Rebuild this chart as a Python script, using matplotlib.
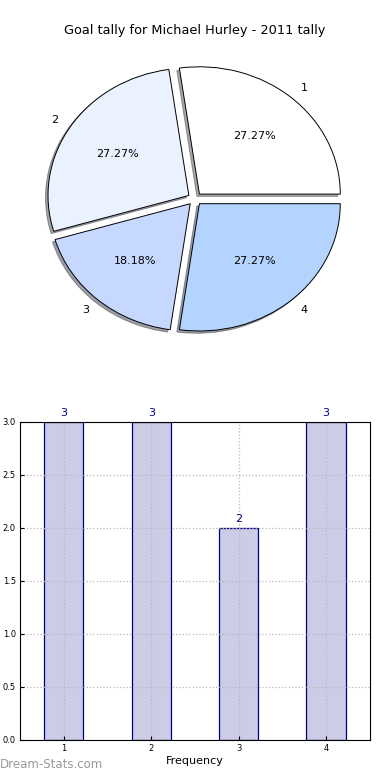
import matplotlib
matplotlib.use("Agg")
import matplotlib.pyplot as plt

title = "Goal tally for Michael Hurley - 2011 tally"
labels = ["1", "2", "3", "4"]
goals = [3, 3, 2, 3]
pie_colors = ["#ffffff", "#eaf1ff", "#c6d8ff", "#b3d4ff"]
yticks = [0.0, 0.5, 1.0, 1.5, 2.0, 2.5, 3.0]

fig = plt.figure(figsize=(3.9, 7.8), dpi=100)

# pie (old-style, not equal aspect)
ax1 = fig.add_axes([0.048, 0.541, 0.903, 0.408])
wedges, texts, autotexts = ax1.pie(goals, labels=labels, colors=pie_colors,
                                   explode=[0.05] * 4,
                                   shadow={"ox": -0.013, "oy": -0.013, "shade": 0.7},
                                   autopct="%.2f%%", startangle=0, counterclock=True,
                                   wedgeprops={"edgecolor": "black", "linewidth": 0.7},
                                   textprops={"fontsize": 8})
ax1.set_aspect("auto")
ax1.set_xlim(-1.25, 1.25)
ax1.set_ylim(-1.25, 1.25)
ax1.axis("off")
fig.text(0.5, 0.961, title, ha="center", va="center", fontsize=9.3)

# bar chart
ax2 = fig.add_axes([0.0513, 0.0513, 0.897, 0.408])
x = [1, 2, 3, 4]
ax2.bar(x, goals, width=0.45, color="#ccccE6", edgecolor="#000080", linewidth=0.9, zorder=2)
for xi, g in zip(x, goals):
    ax2.text(xi, g + 0.04, str(g), ha="center", va="bottom", fontsize=8, color="#000080")
ax2.set_xlim(0.5, 4.5)
ax2.set_ylim(0, 3.0)
ax2.set_xticks(x)
ax2.set_xticklabels(labels)
ax2.set_yticks(yticks)
ax2.set_yticklabels(["%.1f" % v for v in yticks])
ax2.tick_params(labelsize=6, length=3, direction="in", pad=3)
ax2.grid(True, linestyle=":", color="#b8b8b8", linewidth=0.9, zorder=3)
ax2.set_axisbelow(False)
ax2.set_xlabel("Frequency", fontsize=8, labelpad=2)
for s in ax2.spines.values():
    s.set_linewidth(0.8)
    s.set_zorder(4)

fig.text(0.0, 0.012, "Dream-Stats.com", fontsize=8.5, color="#999999", ha="left", va="bottom")

fig.savefig("out.png", dpi=100)
